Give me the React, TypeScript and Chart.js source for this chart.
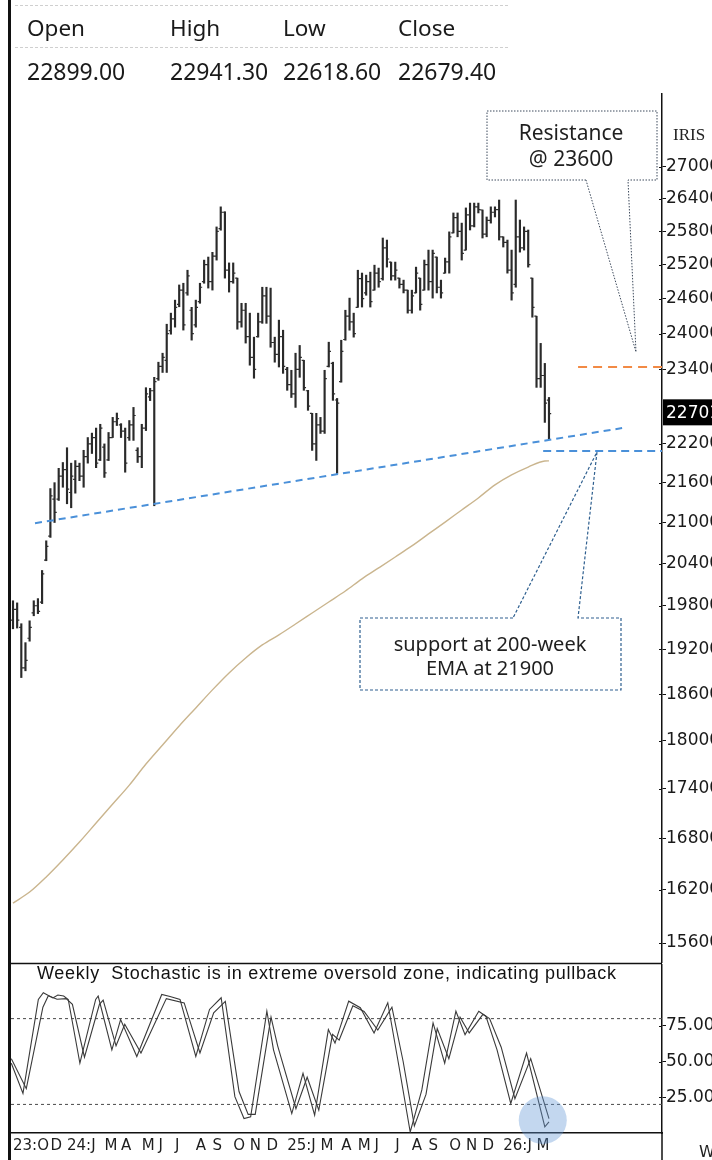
import React, { useEffect, useRef } from 'react';
import { Chart, registerables } from 'chart.js';

Chart.register(...registerables);

// ---------- data ----------
const firstWeek = '2023-10-02';

const weekOpen = [
  19600, 19750, 19500, 18950, 19350, 19700, 19800, 19850, 20450, 20800,
  21350, 21350, 21700, 21800, 21450, 21650, 21850, 21700, 22000, 22200,
  22300, 21950, 22150, 21950, 22300, 22550, 22500, 22400, 22300, 22500,
  22100, 22000, 22450, 22950, 23050, 23250, 23450, 23550, 24050, 24250,
  24500, 24750, 24700, 24400, 24150, 24550, 24900, 25200, 24900, 25350,
  25850, 26150, 25100, 24900, 24960, 24200, 24400, 23950, 23600, 23950,
  24200, 24650, 24300, 23850, 23650, 23950, 23400, 23150, 23000, 23400,
  23550, 23050, 22685, 22200, 22500, 22400, 23450, 23500, 22900, 23200,
  23900, 24300, 24200, 24450, 24950, 24700, 24900, 24750, 25050, 24950,
  25500, 25245, 25000, 24960, 24850, 24749, 24400, 24700, 24960, 24750,
  25200, 24900, 25335, 24800, 25050, 25250, 25770, 26050, 25800, 25460,
  26100, 25900, 26250, 26192, 25750, 26000, 26150, 26200, 25700, 25600,
  25100, 24850, 25700, 25500, 25800, 24960, 24297, 23250, 23300, 22899,
];
const weekHigh = [
  19870, 19840, 19550, 19290, 19590, 19870, 19900, 20300, 20730, 21510,
  21600, 21820, 21910, 22140, 21900, 21940, 21900, 22100, 22300, 22370,
  22450, 22510, 22200, 22380, 22620, 22690, 22520, 22450, 22570, 22780,
  22140, 22510, 23100, 23090, 23270, 23520, 23670, 24160, 24350, 24575,
  24840, 24870, 25100, 24450, 24575, 24870, 25280, 25335, 25420, 25880,
  26250, 26160, 25230, 25230, 24960, 24520, 24520, 24350, 23940, 24350,
  24800, 24800, 24785, 23940, 24230, 24058, 23435, 23386, 23670, 23800,
  23552, 23057, 22685, 22685, 22620, 23386, 23855, 23520, 22925, 23888,
  24400, 24610, 24350, 25100, 25050, 25013, 25066, 25190, 25138, 25678,
  25641, 25245, 25245, 24960, 24925, 24749, 24749, 25155, 24960, 25281,
  25460, 25460, 25335, 24925, 25317, 25790, 26137, 26137, 25950, 26230,
  26320, 26320, 26320, 26192, 26063, 26250, 26250, 26377, 25700, 25641,
  25460, 26377, 26007, 25880, 25824, 24960, 24297, 23835, 23500, 22941,
];
const weekLow = [
  19480, 19490, 18820, 18910, 19310, 19660, 19690, 19830, 20440, 20780,
  21000, 21330, 21530, 21280, 21220, 21440, 21630, 21530, 21900, 22050,
  21830, 21940, 21680, 21940, 22300, 22490, 22300, 21760, 22255, 22255,
  21910, 21830, 22410, 22890, 21250, 23220, 23350, 23350, 23990, 24110,
  24460, 24060, 24660, 23890, 24110, 24520, 24870, 24785, 24750, 25280,
  25820, 24960, 24715, 24870, 24075, 24110, 23840, 23470, 23255, 23940,
  24175, 24175, 23770, 23520, 23440, 23335, 23057, 22940, 22780, 23270,
  23057, 22733, 22098, 21942, 22365, 22365, 23440, 22894, 21740, 23190,
  23888, 24058, 23940, 24450, 24455, 24660, 24455, 24749, 24800, 24925,
  25155, 24925, 24925, 24785, 24700, 24350, 24350, 24700, 24401, 24749,
  24749, 24610, 24700, 24610, 25048, 25048, 25770, 25700, 25281, 25460,
  25824, 25880, 26137, 25678, 25700, 25950, 26063, 25641, 25515, 25048,
  24575, 24800, 25423, 25460, 25155, 24280, 23105, 23105, 22540, 22280,
];
const weekClose = [
  19750, 19600, 18950, 19050, 19500, 19800, 19720, 20250, 20650, 21400,
  21150, 21700, 21800, 21500, 21700, 21850, 21700, 22000, 22200, 22300,
  21900, 22450, 21750, 22300, 22550, 22600, 22400, 21900, 22500, 22650,
  22000, 22450, 23000, 23050, 23200, 23450, 23600, 24000, 24250, 24450,
  24750, 24150, 25000, 24000, 24450, 24800, 25200, 24900, 25350, 25800,
  26150, 25100, 24900, 25050, 24200, 24400, 23950, 23600, 23400, 24200,
  24650, 24300, 23850, 23650, 23950, 23450, 23150, 23000, 23400, 23600,
  23100, 22800, 22200, 22500, 22400, 23250, 23700, 23000, 22850, 23700,
  24300, 24200, 24000, 24950, 24600, 24900, 24550, 25050, 24900, 25500,
  25300, 25000, 25100, 24850, 24750, 24400, 24650, 25050, 24500, 25200,
  24900, 25400, 24800, 24700, 25250, 25700, 26050, 25800, 25400, 26100,
  25900, 26250, 26200, 25750, 26000, 26150, 26200, 25700, 25600, 25100,
  24700, 25700, 25500, 25800, 25200, 24450, 23250, 23300, 22850, 22679,
];

const emaIdx = [0, 4, 8, 12, 16, 20, 24, 28, 32, 36, 40, 44, 48, 52, 56, 60, 64,
  68, 72, 76, 80, 84, 88, 92, 96, 100, 104, 108, 112, 116, 120, 124, 128, 129];
const emaVal = [16046, 16172, 16346, 16543, 16754, 16981, 17210, 17442, 17704,
  17944, 18187, 18420, 18657, 18882, 19083, 19259, 19397, 19546, 19699, 19853,
  20008, 20180, 20336, 20494, 20655, 20831, 21006, 21187, 21368, 21566, 21719,
  21840, 21933, 21935];

const trendIdx = [5.3, 146.6];
const trendVal = [20990, 22450];
const resistIdx = [136, 156.2];
const resistVal = 23440;
const supportIdx = [127.6, 156.2];
const supportVal = 22090;

const priceTicks = [27000, 26400, 25800, 25200, 24600, 24000, 23400, 22200, 21600,
  21000, 20400, 19800, 19200, 18600, 18000, 17400, 16800, 16200, 15600];
const lastPrice = 22701;

const stochKIdx = [-0.4, 2.4, 6.1, 7.3, 9.6, 10.8, 12.2, 13.3, 16.1, 19.9, 20.5, 23.8,
  25.9, 29.8, 35.8, 37.8, 40.2, 44, 47.3, 50.1, 53.4, 55.6, 57.2, 61.1, 62.7, 67.1,
  69.8, 72.6, 75.9, 77.5, 80.8, 83.6, 86.9, 90.2, 92.9, 95.6, 98.4, 101.1, 103.9,
  106.6, 108.8, 112.1, 113.8, 116.5, 119.8, 123.6, 128, 129];
const stochKVal = [48.8, 27.7, 93.4, 98.1, 94.5, 96.5, 95.8, 93.4, 48.8, 93.4, 95.8,
  58.2, 79.3, 53.5, 96.9, 95.5, 93.4, 53.5, 86.4, 94.6, 25.4, 10.1, 11.3, 85.2, 58.2,
  13.6, 41.8, 12.5, 72.3, 62.9, 92.2, 87.6, 70, 91.1, 46.5, 0.7, 30.1, 77, 48.8, 85.2,
  68.8, 85.2, 81.7, 58.2, 20.7, 55.9, 4.3, 7.8];
const stochDIdx = [-0.4, 3.2, 7.2, 8.5, 10.6, 12.8, 14.3, 17.2, 20.8, 21.7, 24.8,
  26.9, 30.8, 36.9, 41.2, 45, 48.3, 51.1, 54.4, 56.6, 58.3, 62.1, 63.7, 68.1, 70.8,
  73.6, 76.9, 78.5, 81.8, 84.5, 87.8, 91.2, 93.9, 96.6, 99.4, 102.1, 104.9, 107.6,
  109.8, 113.1, 114.7, 117.5, 120.8, 124.6, 129];
const stochDVal = [52, 31, 88, 96, 93.5, 94, 90, 53, 90, 93, 61, 76, 56, 94, 91, 56,
  84, 92, 29, 13, 13, 81, 61, 17, 39, 16, 69, 65, 89, 85, 72, 88, 50, 5, 27, 73, 52,
  81, 70, 83, 80, 60, 24, 52, 10];
const stochBands = [80, 20];
const stochTicks = [25, 50, 75];
const highlightIdx = 127.5;
const highlightVal = 9;

const monthKeys = ['2023-10', '2023-12', '2024-01', '2024-03', '2024-04', '2024-05',
  '2024-06', '2024-07', '2024-08', '2024-09', '2024-10', '2024-11', '2024-12',
  '2025-01', '2025-03', '2025-04', '2025-05', '2025-06', '2025-07', '2025-08',
  '2025-09', '2025-10', '2025-11', '2025-12', '2026-01', '2026-03'];
const monthTexts = ['23:O', 'D', '24:J', 'M', 'A', 'M', 'J', 'J', 'A', 'S', 'O', 'N',
  'D', '25:J', 'M', 'A', 'M', 'J', 'J', 'A', 'S', 'O', 'N', 'D', '26:J', 'M'];

const headerNames = ['Open', 'High', 'Low', 'Close'];
const headerValues = ['22899.00', '22941.30', '22618.60', '22679.40'];

// ---------- scale settings ----------
const X_MIN = -0.48;
const X_MAX = 156.2;
const Y_MIN = 15381;
const Y_MAX = 28450;

function weekKey(i: number): string {
  const d = new Date(firstWeek + 'T00:00:00Z');
  d.setUTCDate(d.getUTCDate() + 7 * i);
  return d.getUTCFullYear() + '-' + String(d.getUTCMonth() + 1).padStart(2, '0');
}

const monthTicks = monthKeys.map((k, n) => {
  let idx = 0;
  for (let i = 0; i < weekClose.length; i++) {
    if (weekKey(i) === k) { idx = i; break; }
  }
  return { index: idx, text: monthTexts[n] };
});

const AXIS_FONT = { family: 'DejaVu Sans', size: 17 };

// small inner half of the "+" tick marks on the right axis
const innerTicks = {
  id: 'innerTicks',
  afterDraw(chart: any) {
    const { ctx, chartArea, scales } = chart;
    const y = scales.y;
    ctx.save();
    ctx.strokeStyle = '#111';
    ctx.lineWidth = 1;
    ctx.beginPath();
    for (const t of y.ticks) {
      const py = Math.round(y.getPixelForValue(t.value)) + 0.5;
      ctx.moveTo(chartArea.right - 3, py);
      ctx.lineTo(chartArea.right, py);
    }
    ctx.stroke();
    ctx.restore();
  },
};

const ohlcTicks = {
  id: 'ohlcTicks',
  afterDatasetsDraw(chart: any) {
    const { ctx, chartArea, scales } = chart;
    const x = scales.x, y = scales.y;
    ctx.save();
    ctx.beginPath();
    ctx.rect(chartArea.left, chartArea.top, chartArea.width, chartArea.height);
    ctx.clip();
    ctx.strokeStyle = '#2e2e2e';
    ctx.lineWidth = 1.2;
    ctx.beginPath();
    for (let i = 0; i < weekOpen.length; i++) {
      const px = x.getPixelForValue(i);
      const po = y.getPixelForValue(weekOpen[i]);
      const pc = y.getPixelForValue(weekClose[i]);
      ctx.moveTo(px - 2.2, po); ctx.lineTo(px, po);
      ctx.moveTo(px, pc); ctx.lineTo(px + 2.2, pc);
    }
    ctx.stroke();
    ctx.restore();
  },
};

const lastPriceBox = {
  id: 'lastPriceBox',
  afterDraw(chart: any) {
    const { ctx, chartArea, scales } = chart;
    const py = scales.y.getPixelForValue(lastPrice);
    ctx.save();
    ctx.fillStyle = '#000';
    ctx.fillRect(chartArea.right + 1, py - 13, chart.width - chartArea.right, 26);
    ctx.fillStyle = '#fff';
    ctx.font = '17px "DejaVu Sans"';
    ctx.textBaseline = 'middle';
    ctx.textAlign = 'left';
    ctx.fillText(String(lastPrice), chartArea.right + 4, py + 1);
    ctx.restore();
  },
};

function PriceChart() {
  const ref = useRef<HTMLCanvasElement>(null);
  useEffect(() => {
    const bars = weekHigh.map((h, i) => ({ x: i, y: [weekLow[i], h] }));
    const ema = emaIdx.map((x, k) => ({ x, y: emaVal[k] }));
    const trend = trendIdx.map((x, k) => ({ x, y: trendVal[k] }));
    const resist = resistIdx.map((x) => ({ x, y: resistVal }));
    const support = supportIdx.map((x) => ({ x, y: supportVal }));
    const chart = new Chart(ref.current as HTMLCanvasElement, {
      type: 'bar',
      data: {
        datasets: [
          { type: 'bar', data: bars as any, backgroundColor: '#2a2a2a', borderWidth: 0, barThickness: 1.5, order: 3 },
          { type: 'line', data: ema as any, borderColor: '#cab58e', borderWidth: 1.4, pointRadius: 0, cubicInterpolationMode: 'monotone', order: 2 },
          { type: 'line', data: trend as any, borderColor: '#4a90d9', borderWidth: 2, borderDash: [7, 5], pointRadius: 0, order: 1 },
          { type: 'line', data: resist as any, borderColor: '#f28a45', borderWidth: 2, borderDash: [9, 6], pointRadius: 0, order: 1 },
          { type: 'line', data: support as any, borderColor: '#4a90d9', borderWidth: 2, borderDash: [8, 5], pointRadius: 0, order: 1 },
        ],
      } as any,
      options: {
        animation: false,
        responsive: false,
        devicePixelRatio: 1,
        events: [],
        layout: { padding: 0, autoPadding: false },
        plugins: { legend: { display: false }, tooltip: { enabled: false } },
        scales: {
          x: { type: 'linear', min: X_MIN, max: X_MAX, bounds: 'data', offset: false, display: false },
          y: {
            type: 'logarithmic', position: 'right', min: Y_MIN, max: Y_MAX, bounds: 'data',
            afterBuildTicks: (s: any) => { s.ticks = priceTicks.map((v) => ({ value: v })); },
            afterFit: (s: any) => { s.width = 50; s.paddingTop = 0; s.paddingBottom = 0; },
            ticks: { autoSkip: false, padding: 0, color: '#1a1a1a', font: AXIS_FONT, callback: (v: any) => String(v) },
            grid: { drawOnChartArea: false, tickLength: 4, color: '#111' },
            border: { display: true, color: '#111', width: 1.5 },
          },
        } as any,
      },
      plugins: [ohlcTicks, innerTicks, lastPriceBox],
    });
    return () => chart.destroy();
  }, []);
  return (
    <canvas ref={ref} width={701} height={870}
      style={{ position: 'absolute', left: 11, top: 93, width: 701, height: 870 }} />
  );
}

function StochChart() {
  const ref = useRef<HTMLCanvasElement>(null);
  useEffect(() => {
    const k = stochKIdx.map((x, n) => ({ x, y: stochKVal[n] }));
    const d = stochDIdx.map((x, n) => ({ x, y: stochDVal[n] }));
    const bands = stochBands.map((b) => [{ x: X_MIN, y: b }, { x: X_MAX, y: b }]);
    const chart = new Chart(ref.current as HTMLCanvasElement, {
      type: 'line',
      data: {
        datasets: [
          { data: [{ x: highlightIdx, y: highlightVal }], showLine: false, pointRadius: 24, pointBackgroundColor: 'rgba(96,150,214,0.38)', pointBorderColor: 'rgba(0,0,0,0)', pointBorderWidth: 0, order: -1, clip: false },
          { data: k, borderColor: '#3a3a3a', borderWidth: 1.1, pointRadius: 0, tension: 0, order: 1 },
          { data: d, borderColor: '#3a3a3a', borderWidth: 1.1, pointRadius: 0, tension: 0, order: 1 },
          { data: bands[0], borderColor: '#4a4a4a', borderWidth: 1, borderDash: [3, 3], pointRadius: 0, order: 2 },
          { data: bands[1], borderColor: '#4a4a4a', borderWidth: 1, borderDash: [3, 3], pointRadius: 0, order: 2 },
        ],
      } as any,
      options: {
        animation: false,
        responsive: false,
        devicePixelRatio: 1,
        events: [],
        layout: { padding: 0, autoPadding: false },
        plugins: { legend: { display: false }, tooltip: { enabled: false } },
        scales: {
          x: {
            type: 'linear', position: 'bottom', min: X_MIN, max: X_MAX, bounds: 'data', offset: false,
            afterBuildTicks: (s: any) => { s.ticks = monthTicks.map((m) => ({ value: m.index })); },
            afterFit: (s: any) => { s.height = 27; s.paddingLeft = 0; s.paddingRight = 0; },
            ticks: {
              autoSkip: false, maxRotation: 0, minRotation: 0, align: 'start', padding: 4,
              color: '#1e1e1e', font: { family: 'DejaVu Sans', size: 15 },
              callback: (_v: any, i: number) => (monthTicks[i] ? monthTicks[i].text : ''),
            },
            grid: { display: false, drawTicks: false },
            border: { display: true, color: '#111', width: 1.5 },
          },
          y: {
            type: 'linear', position: 'right', min: 0, max: 118.2, bounds: 'data',
            afterBuildTicks: (s: any) => { s.ticks = stochTicks.map((v) => ({ value: v })); },
            afterFit: (s: any) => { s.width = 50; s.paddingTop = 0; s.paddingBottom = 0; },
            ticks: { autoSkip: false, padding: 0, color: '#1a1a1a', font: AXIS_FONT, callback: (v: any) => Number(v).toFixed(2) },
            grid: { drawOnChartArea: false, tickLength: 4, color: '#111' },
            border: { display: true, color: '#111', width: 1.5 },
          },
        } as any,
      },
      plugins: [innerTicks],
    });
    return () => chart.destroy();
  }, []);
  return (
    <canvas ref={ref} width={701} height={196}
      style={{ position: 'absolute', left: 11, top: 964, width: 701, height: 196 }} />
  );
}

const headerX = [27, 170, 283, 398];

export default function App() {
  const sans = '"Noto Sans", "Open Sans", sans-serif';
  return (
    <div style={{ position: 'absolute', left: 0, top: 0, width: 712, height: 1160, overflow: 'hidden', background: '#fff' }}>
      <PriceChart />
      <StochChart />
      <svg width={712} height={1160} style={{ position: 'absolute', left: 0, top: 0, pointerEvents: 'none' }}>
        {/* frame */}
        <rect x={8} y={0} width={3} height={1160} fill="#111" />
        <line x1={10} y1={963.5} x2={662} y2={963.5} stroke="#111" strokeWidth={1.3} />
        <line x1={662} y1={1133} x2={662} y2={1160} stroke="#111" strokeWidth={1.5} />

        {/* OHLC header */}
        <line x1={15} y1={5.5} x2={510} y2={5.5} stroke="#cfcfcf" strokeDasharray="3 2" />
        <line x1={15} y1={47.5} x2={510} y2={47.5} stroke="#cfcfcf" strokeDasharray="3 2" />
        {headerNames.map((t, i) => (
          <text key={'h' + i} x={headerX[i]} y={36} fontFamily={sans} fontSize={22.5} fill="#1a1a1a">{t}</text>
        ))}
        {headerValues.map((t, i) => (
          <text key={'v' + i} x={headerX[i]} y={80} fontFamily={sans} fontSize={23} fill="#1a1a1a">{t}</text>
        ))}

        <text x={673} y={140} fontFamily='"Liberation Serif", serif' fontSize={17} fill="#222">IRIS</text>

        {/* resistance callout */}
        <path d="M586 180 L487 180 L487 111 L657 111 L657 180 L628 180 L636 352 Z"
          fill="#fff" stroke="#3d4a5c" strokeWidth={1} strokeDasharray="1.5 1.5" />
        <text x={571} y={140} textAnchor="middle" fontFamily={sans} fontSize={21} fill="#1f1f1f">Resistance</text>
        <text x={571} y={166} textAnchor="middle" fontFamily={sans} fontSize={21} fill="#1f1f1f">@ 23600</text>

        {/* support callout */}
        <path d="M513 618 L360 618 L360 690 L621 690 L621 618 L578 618 L597 452 Z"
          fill="#fff" stroke="#2e5f8f" strokeWidth={1.2} strokeDasharray="3 2" />
        <text x={490} y={651} textAnchor="middle" fontFamily={sans} fontSize={20} fill="#1f1f1f">support at 200-week</text>
        <text x={490} y={675} textAnchor="middle" fontFamily={sans} fontSize={20} fill="#1f1f1f">EMA at 21900</text>

        {/* stochastic note */}
        <text x={37} y={979} xmlSpace="preserve" style={{ whiteSpace: 'pre' }} textLength={579} lengthAdjust="spacing"
          fontFamily='"Liberation Sans", Arial, sans-serif' fontSize={18} fill="#111">Weekly  Stochastic is in extreme oversold zone, indicating pullback</text>

        <text x={699} y={1157} fontFamily='"DejaVu Sans", sans-serif' fontSize={16} fill="#222">W</text>
      </svg>
    </div>
  );
}
